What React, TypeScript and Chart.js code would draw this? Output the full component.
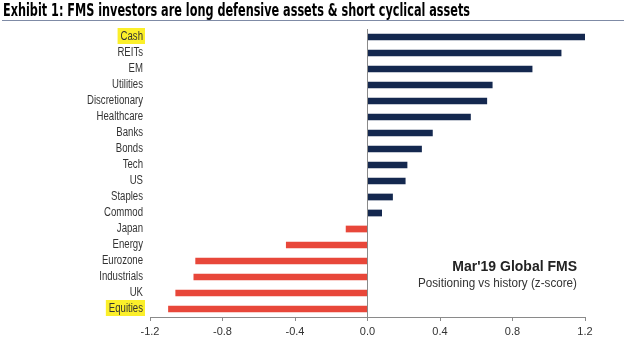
import React, { useEffect, useRef } from "react";
import { Chart, registerables } from "chart.js";

Chart.register(...registerables);

const categories = [
  "Cash", "REITs", "EM", "Utilities", "Discretionary", "Healthcare", "Banks", "Bonds",
  "Tech", "US", "Staples", "Commod", "Japan", "Energy", "Eurozone", "Industrials", "UK", "Equities",
];
const zScores = [
  1.21, 1.07, 0.91, 0.69, 0.66, 0.57, 0.36, 0.30,
  0.22, 0.21, 0.14, 0.08, -0.12, -0.45, -0.95, -0.96, -1.06, -1.10,
];
const highlighted = ["Cash", "Equities"];
const titleText = "Exhibit 1: FMS investors are long defensive assets & short cyclical assets";
const annotationTitle = "Mar'19 Global FMS";
const annotationSub = "Positioning vs history (z-score)";

const NAVY = "#14284f";
const RED = "#e8473a";
const SANS = "'Liberation Sans', Arial, sans-serif";
const CONDENSE = 0.8;

const decorPlugin = {
  id: "decor",
  beforeDraw(chart: any) {
    const ctx = chart.ctx;
    ctx.save();
    ctx.fillStyle = "#ffffff";
    ctx.fillRect(0, 0, chart.width, chart.height);
    // title
    ctx.fillStyle = "#000000";
    ctx.font = "bold 17px 'Liberation Sans Narrow', 'DejaVu Sans Condensed', 'Liberation Sans', sans-serif";
    ctx.textAlign = "left";
    ctx.textBaseline = "alphabetic";
    ctx.fillText(titleText, 3, 16, 467);
    ctx.strokeStyle = "#7f8ba6";
    ctx.lineWidth = 1;
    ctx.beginPath();
    ctx.moveTo(2, 20.5);
    ctx.lineTo(624, 20.5);
    ctx.stroke();
    // category labels (condensed) with highlight boxes
    const yScale = chart.scales.y;
    const right = yScale.right - 7;
    ctx.font = "12px " + SANS;
    ctx.textAlign = "right";
    ctx.textBaseline = "middle";
    categories.forEach((name, i) => {
      const yc = yScale.getPixelForValue(i);
      const w = ctx.measureText(name).width * CONDENSE;
      if (highlighted.indexOf(name) >= 0) {
        ctx.fillStyle = "#fbef2a";
        ctx.fillRect(right - w - 3, yc - 9, w + 5, 16);
      }
      ctx.fillStyle = "#333333";
      ctx.fillText(name, right, yc, w);
    });
    ctx.restore();
  },
  afterDraw(chart: any) {
    const ctx = chart.ctx;
    const area = chart.chartArea;
    ctx.save();
    ctx.fillStyle = "#222222";
    ctx.textAlign = "right";
    ctx.textBaseline = "middle";
    ctx.font = "bold 14px " + SANS;
    ctx.fillText(annotationTitle, area.right - 8, 267, 131);
    ctx.font = "12px " + SANS;
    ctx.fillStyle = "#333333";
    ctx.fillText(annotationSub, area.right - 8, 284, 159);
    ctx.restore();
  },
};

export default function App() {
  const ref = useRef<HTMLCanvasElement | null>(null);

  useEffect(() => {
    document.body.style.margin = "0";
    const canvas = ref.current;
    if (!canvas) return;
    const chart = new Chart(canvas, {
      type: "bar",
      data: {
        labels: categories,
        datasets: [
          {
            data: zScores,
            backgroundColor: zScores.map((v) => (v >= 0 ? NAVY : RED)),
            borderWidth: 0,
            barPercentage: 0.42,
            categoryPercentage: 1,
          },
        ],
      },
      options: {
        indexAxis: "y",
        animation: false,
        responsive: false,
        devicePixelRatio: 1,
        layout: { padding: { top: 29, right: 39, left: 0, bottom: 0 } },
        plugins: {
          legend: { display: false },
          tooltip: { enabled: false },
          title: { display: false },
        },
        scales: {
          x: {
            type: "linear",
            min: -1.2,
            max: 1.2,
            ticks: {
              stepSize: 0.4,
              padding: 4,
              color: "#333333",
              font: { family: SANS, size: 11 },
              callback: (v: any) => Number(v).toFixed(1),
            },
            grid: {
              drawOnChartArea: true,
              drawTicks: true,
              tickLength: 4,
              color: (c: any) => (c.tick && Math.abs(c.tick.value) < 1e-9 ? "#8a8a8a" : "rgba(0,0,0,0)"),
              tickColor: "#8a8a8a",
              lineWidth: 1,
            },
            border: { display: true, color: "#8a8a8a" },
            afterFit: (s: any) => {
              s.height = 27;
            },
          },
          y: {
            type: "category",
            ticks: { display: false, autoSkip: false },
            grid: { display: false, drawTicks: false },
            border: { display: false },
            afterFit: (s: any) => {
              s.width = 150;
            },
          },
        },
      },
      plugins: [decorPlugin],
    } as any);
    return () => chart.destroy();
  }, []);

  return (
    <div style={{ width: 624, height: 344 }}>
      <canvas ref={ref} width={624} height={344} style={{ display: "block", width: 624, height: 344 }} />
    </div>
  );
}
